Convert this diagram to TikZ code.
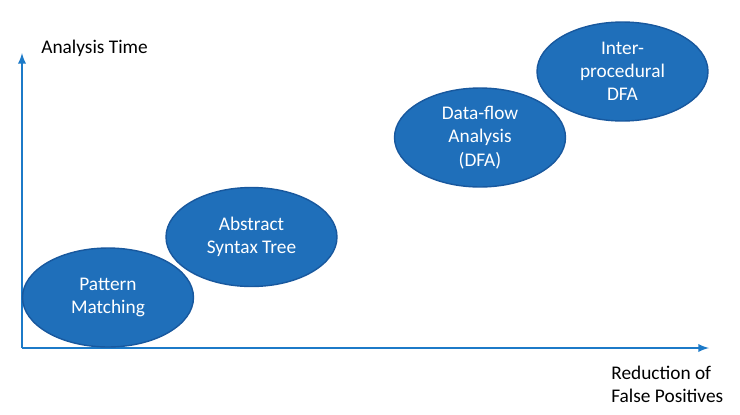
\documentclass[tikz,border=0pt]{standalone}
\usepackage{fontspec}
\setmainfont{Carlito}
\usepackage{xcolor}
\usetikzlibrary{shapes.geometric}
\definecolor{bubblefill}{RGB}{31,111,186}
\definecolor{bubbleline}{RGB}{24,88,158}
\definecolor{axisblue}{RGB}{28,122,200}

\tikzset{
  bubble/.style={ellipse, draw=bubbleline, line width=0.8pt, fill=bubblefill,
    text=white, align=center, inner sep=0pt, minimum width=3.42cm, minimum height=1.98cm,
    font=\fontsize{11}{13.2}\selectfont},
  axisline/.style={draw=axisblue, line width=1.1pt, -latex},
  axislabel/.style={font=\fontsize{11}{13.2}\selectfont, align=left, inner sep=0pt}
}

\begin{document}
\begin{tikzpicture}[x=0.02cm, y=0.02cm]
\useasboundingbox (0,0) rectangle (740,414);

% axes
\coordinate (origin) at (22,66);
\coordinate (ytip) at (22,361);
\coordinate (xtip) at (709,66);
\draw[axisline] (origin) -- (ytip);
\draw[axisline] (origin) -- (xtip);

\node[axislabel, anchor=west] (ylab) at (41,366) {Analysis Time};
\node[axislabel, anchor=west] (xlab) at (611,29.5) {Reduction of\\False Positives};

% techniques
\node[bubble] (pattern) at (108,116.5) {Pattern\\Matching};
\node[bubble] (ast) at (251.5,177) {Abstract\\Syntax Tree};
\node[bubble] (dfa) at (480,276.5) {Data-flow\\Analysis\\(DFA)};
\node[bubble] (inter) at (622.5,342.5) {Inter-\\procedural\\DFA};

\end{tikzpicture}
\end{document}
